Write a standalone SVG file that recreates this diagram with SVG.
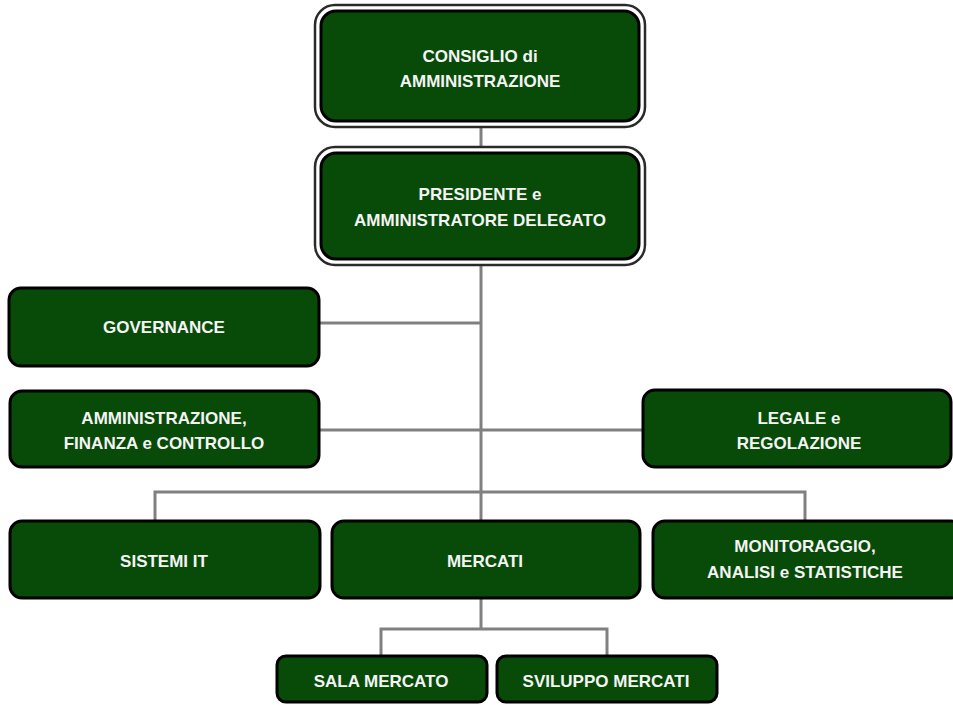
<svg xmlns="http://www.w3.org/2000/svg" width="953" height="705" viewBox="0 0 953 705">
<style>
.box{fill:#084a08;stroke:#000;stroke-width:3}
.outer{fill:#fff;stroke:#2a2a2a;stroke-width:2.5}
.t{font-family:"Liberation Sans",Arial,sans-serif;font-weight:bold;font-size:17px;fill:#f4f4f4;text-anchor:middle}
.c{fill:none;stroke:#808080;stroke-width:3}
</style>
<rect width="953" height="705" fill="#fff"/>
<g id="connectors">
<path class="c" d="M481,127V147"/>
<path class="c" d="M481,265V520"/>
<path class="c" d="M320,323H481"/>
<path class="c" d="M320,430H643"/>
<path class="c" d="M155,520V492H805V520"/>
<path class="c" d="M481,598V629"/>
<path class="c" d="M381,655V629H607V655"/>
</g>
<g id="consiglio">
<rect class="outer" x="315" y="5" width="330" height="122" rx="20"/>
<rect class="box" x="321" y="11" width="318" height="110" rx="15"/>
<text class="t" x="480" y="62">CONSIGLIO di</text>
<text class="t" x="480" y="87">AMMINISTRAZIONE</text>
</g>
<g id="presidente">
<rect class="outer" x="315" y="147" width="330" height="118" rx="20"/>
<rect class="box" x="321" y="153" width="318" height="106" rx="15"/>
<text class="t" x="480" y="200">PRESIDENTE e</text>
<text class="t" x="480" y="226">AMMINISTRATORE DELEGATO</text>
</g>
<g id="governance">
<rect class="box" x="9" y="288" width="310" height="78" rx="12"/>
<text class="t" x="164" y="333">GOVERNANCE</text>
</g>
<g id="afc">
<rect class="box" x="10" y="391" width="309" height="76" rx="12"/>
<text class="t" x="164" y="424">AMMINISTRAZIONE,</text>
<text class="t" x="164" y="449">FINANZA e CONTROLLO</text>
</g>
<g id="legale">
<rect class="box" x="643" y="390" width="308" height="77" rx="12"/>
<text class="t" x="799" y="424">LEGALE e</text>
<text class="t" x="799" y="449">REGOLAZIONE</text>
</g>
<g id="sistemi">
<rect class="box" x="10" y="521" width="310" height="77" rx="12"/>
<text class="t" x="164" y="567">SISTEMI IT</text>
</g>
<g id="mercati">
<rect class="box" x="332" y="521" width="308" height="77" rx="12"/>
<text class="t" x="485" y="567">MERCATI</text>
</g>
<g id="monitoraggio">
<rect class="box" x="653" y="521" width="310" height="77" rx="12"/>
<text class="t" x="805" y="552">MONITORAGGIO,</text>
<text class="t" x="805" y="578">ANALISI e STATISTICHE</text>
</g>
<g id="sala">
<rect class="box" x="277" y="656" width="210" height="46" rx="9"/>
<text class="t" x="381" y="687">SALA MERCATO</text>
</g>
<g id="sviluppo">
<rect class="box" x="497" y="656" width="220" height="46" rx="9"/>
<text class="t" x="606" y="687">SVILUPPO MERCATI</text>
</g>
</svg>
